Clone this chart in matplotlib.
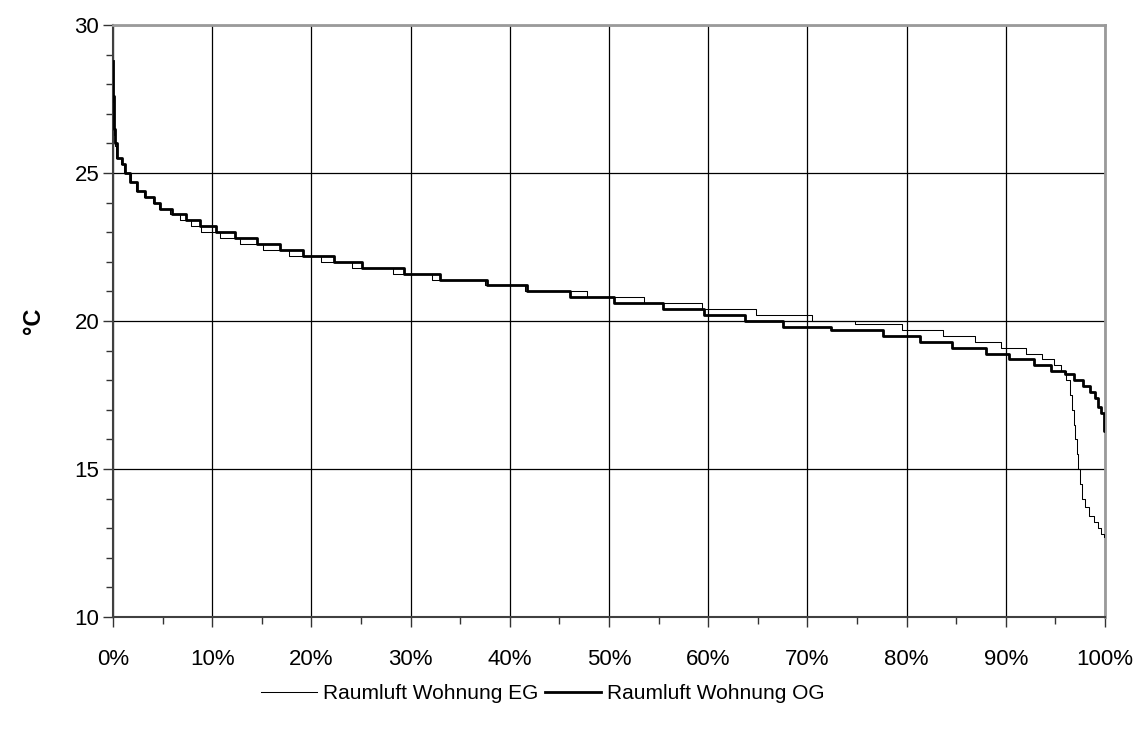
import matplotlib
matplotlib.use("Agg")
import matplotlib.pyplot as plt
from matplotlib.ticker import MultipleLocator, FuncFormatter

plt.rcParams['font.family'] = ['Liberation Sans', 'DejaVu Sans']

# Duration curves: each level (deg C) held until the given share of time (%)
og_levels = [28.8, 27.6, 27.0, 26.5, 26.0, 25.5, 25.3, 25.0, 24.7, 24.4, 24.2, 24.0,
             23.8, 23.6, 23.4, 23.2, 23.0, 22.8, 22.6, 22.4, 22.2, 22.0, 21.8, 21.6,
             21.4, 21.2, 21.0, 20.8, 20.6, 20.4, 20.2, 20.0, 19.8, 19.7, 19.5, 19.3,
             19.1, 18.9, 18.7, 18.5, 18.3, 18.2, 18.0, 17.8, 17.6, 17.4, 17.1, 16.9,
             16.3]
og_until = [0.03, 0.06, 0.12, 0.22, 0.4, 0.9, 1.2, 1.7, 2.4, 3.2, 4.1, 4.7,
            5.9, 7.4, 8.8, 10.4, 12.3, 14.5, 16.8, 19.2, 22.3, 25.1, 29.3, 33.0,
            37.7, 41.7, 46.1, 50.5, 55.4, 59.6, 63.7, 67.5, 72.4, 77.6, 81.4, 84.6,
            88.0, 90.3, 92.8, 94.6, 96.0, 96.9, 97.8, 98.5, 99.0, 99.3, 99.6, 99.85,
            100.0]

eg_levels = [28.4, 27.4, 26.8, 26.3, 25.9, 25.5, 25.3, 25.0, 24.7, 24.4, 24.2, 24.0,
             23.8, 23.6, 23.4, 23.2, 23.0, 22.8, 22.6, 22.4, 22.2, 22.0, 21.8, 21.6,
             21.4, 21.2, 21.0, 20.8, 20.6, 20.4, 20.2, 20.0, 19.9, 19.7, 19.5, 19.3,
             19.1, 18.9, 18.7, 18.5, 18.3, 18.0, 17.5, 17.0, 16.5, 16.0, 15.5, 15.0,
             14.5, 14.0, 13.7, 13.4, 13.2, 13.0, 12.8, 12.7]
eg_until = [0.03, 0.06, 0.12, 0.22, 0.35, 0.8, 1.1, 1.8, 2.3, 3.1, 4.0, 4.6,
            5.7, 6.75, 7.9, 8.9, 10.8, 12.8, 15.1, 17.7, 21.0, 24.1, 28.2, 32.2,
            37.5, 41.5, 47.8, 53.5, 59.4, 64.8, 70.5, 74.8, 79.5, 83.7, 86.9, 89.5,
            92.0, 93.6, 94.9, 95.6, 96.1, 96.5, 96.7, 96.85, 97.0, 97.15, 97.3, 97.5,
            97.7, 98.0, 98.4, 98.9, 99.3, 99.6, 99.85, 100.0]

x_ticks = [0, 10, 20, 30, 40, 50, 60, 70, 80, 90, 100]
y_ticks = [10, 15, 20, 25, 30]


def step_xy(levels, until):
    xs, ys = [], []
    start = 0.0
    for lv, end in zip(levels, until):
        xs += [start, end]
        ys += [lv, lv]
        start = end
    return xs, ys


fig = plt.figure(figsize=(11.44, 7.34), dpi=100)
ax = fig.add_axes([0.0988, 0.1594, 0.8671, 0.8065])

ex, ey = step_xy(eg_levels, eg_until)
ox, oy = step_xy(og_levels, og_until)
ax.plot(ex, ey, color='black', lw=0.75, label='Raumluft Wohnung EG', zorder=3)
ax.plot(ox, oy, color='black', lw=2.0, label='Raumluft Wohnung OG', zorder=4)

ax.set_xlim(0, 100)
ax.set_ylim(10, 30)
ax.set_xticks(x_ticks)
ax.set_yticks(y_ticks)
ax.xaxis.set_minor_locator(MultipleLocator(5))
ax.yaxis.set_minor_locator(MultipleLocator(1))
ax.xaxis.set_major_formatter(FuncFormatter(lambda v, p: f"{int(round(v))}%"))
ax.grid(True, which='major', color='black', lw=0.9)
ax.set_axisbelow(True)

ax.tick_params(which='major', direction='out', length=7, width=1, labelsize=16, color='#333333')
ax.tick_params(axis='x', which='major', pad=16)
ax.tick_params(axis='y', which='major', pad=3)
ax.tick_params(which='minor', direction='out', length=5, width=1, color='#333333')

for s in ['left', 'bottom']:
    ax.spines[s].set_color('#404040')
    ax.spines[s].set_linewidth(1.5)
for s in ['top', 'right']:
    ax.spines[s].set_color('#9a9a9a')
    ax.spines[s].set_linewidth(2.0)

ax.set_ylabel('°C', fontsize=17, fontweight='bold', labelpad=21)

leg = ax.legend(loc='center', bbox_to_anchor=(0.433, -0.13), ncol=2, frameon=False,
                fontsize=15, handlelength=2.7, handletextpad=0.25, columnspacing=0.35,
                borderpad=0)

fig.savefig('out.png', dpi=100)
